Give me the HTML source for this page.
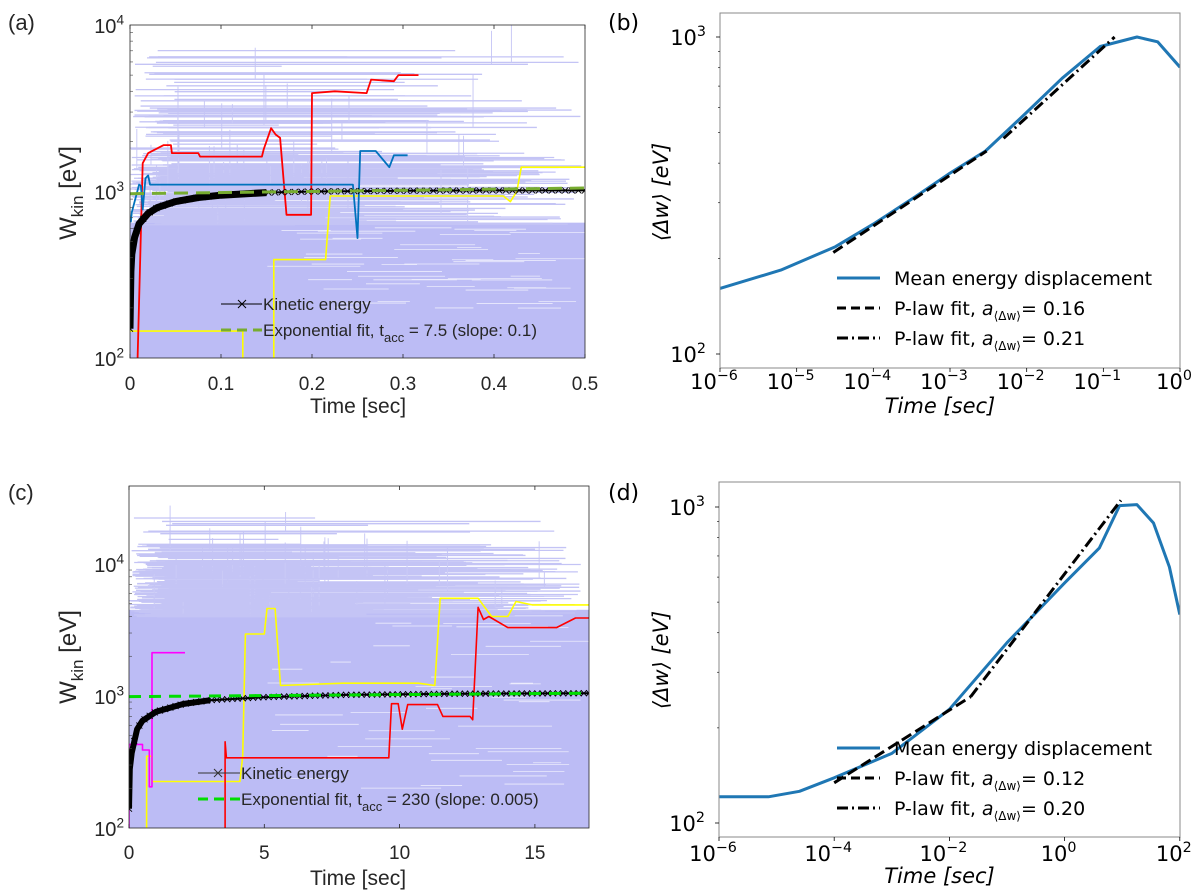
<!DOCTYPE html>
<html><head><meta charset="utf-8"><title>Energy panels</title>
<style>
html,body{margin:0;padding:0;background:#fff;width:1200px;height:895px;overflow:hidden;}
svg{display:block;}
.mt{font-family:"Liberation Sans",sans-serif;fill:#262626;}
.py{font-family:"DejaVu Sans",sans-serif;fill:#000;}
</style></head>
<body>
<svg id="fig" width="1200" height="895" viewBox="0 0 1200 895" xmlns="http://www.w3.org/2000/svg">
<defs>
<clipPath id="clipA"><rect x="130" y="25" width="455" height="333"/></clipPath>
<clipPath id="clipB"><rect x="720" y="13" width="460" height="355"/></clipPath>
<clipPath id="clipC"><rect x="129" y="486" width="460" height="342"/></clipPath>
<clipPath id="clipD"><rect x="719" y="482" width="461" height="355"/></clipPath>
</defs>
<text class="mt" x="8" y="30" font-size="22">(a)</text>
<text class="py" x="608" y="30" font-size="22">(b)</text>
<text class="mt" x="8" y="500" font-size="22">(c)</text>
<text class="py" x="608" y="500" font-size="22">(d)</text>
</svg>
<script>
// ---- Panel (a) data ----
const aKinT=[0,0.001,0.002,0.005,0.01,0.02,0.03,0.05,0.075,0.1,0.15,0.2,0.3,0.4,0.5];
const aKinV=[150,330,420,530,640,740,800,870,920,950,985,1000,1010,1015,1015];
const aFitT=[0,0.5];
const aFitV=[970,1050];
const aRedT=[0.0084,0.0084,0.014,0.02,0.037,0.045,0.046,0.075,0.077,0.145,0.147,0.155,0.16,0.165,0.172,0.199,0.2,0.225,0.26,0.265,0.29,0.295,0.317];
const aRedV=[90,100,1480,1700,1900,1900,1700,1700,1620,1620,1800,2400,2200,2100,725,725,3900,4000,3900,4700,4600,5000,5000];
const aBlueT=[0,0.001,0.002,0.01,0.012,0.014,0.017,0.02,0.022,0.245,0.25,0.253,0.27,0.285,0.29,0.305];
const aBlueV=[660,660,750,1100,1080,780,1200,1250,1100,1100,525,1750,1750,1400,1650,1650];
const aYelT=[0,0.124,0.124,0.158,0.158,0.215,0.22,0.41,0.418,0.425,0.43,0.5];
const aYelV=[145,145,90,90,390,390,940,940,870,1000,1400,1400];
const aXTicks=[0,0.1,0.2,0.3,0.4,0.5];
const aXTickLabels=["0","0.1","0.2","0.3","0.4","0.5"];
// ---- Panel (b) data ----
const bT=[1e-6,6.2e-6,3.2e-5,1e-4,3.5e-4,1e-3,2.9e-3,9.1e-3,2.9e-2,9.1e-2,0.275,0.51,1];
const bV=[161,184,218,257,313,372,437,566,741,933,1000,966,803];
const bFit1T=[3e-5,3e-3];
const bFit1V=[209,437];
const bFit2T=[5e-3,0.14];
const bFit2V=[479,1000];
const bXExp=[-6,-5,-4,-3,-2,-1,0];
// ---- Panel (c) data ----
const cKinT=[0,0.03,0.1,0.3,0.5,1,2,3,5,8,12,17];
const cKinV=[140,280,370,560,650,760,870,930,980,1020,1040,1050];
const cFitT=[0,17];
const cFitV=[990,1050];
const cMagT=[0,0,0.5,0.5,0.75,0.75,0.85,0.85,2.07];
const cMagV=[90,430,430,390,390,205,205,2130,2130];
const cYelT=[0.65,0.65,0.85,0.85,4.1,4.2,4.3,5.0,5.1,5.4,5.6,7.9,10.7,11.3,11.5,12.9,13.4,14.0,14.3,14.9,17];
const cYelV=[90,350,350,225,225,350,2950,2950,4600,4600,1200,1250,1250,1200,5500,5500,4000,4000,5200,4900,4900];
const cRedT=[3.55,3.55,3.6,3.65,9.6,9.7,9.95,10.1,10.3,11.4,11.6,12.6,12.7,12.9,13.1,13.3,14,15.8,16.5,17];
const cRedV=[90,450,340,340,340,875,875,560,860,860,700,700,660,4700,3800,4000,3300,3300,3900,3900];
const cXTicks=[0,5,10,15];
const cXTickLabels=["0","5","10","15"];
// ---- Panel (d) data ----
const dT=[1e-6,7.2e-6,2.5e-5,1e-4,1e-3,1e-2,0.1,1,4,9,18,35,66,100];
const dV=[121,121,126,139,166,229,372,575,741,1010,1018,890,646,457];
const dFit1T=[1e-4,0.0234];
const dFit1V=[134,251];
const dFit2T=[0.0234,9.5];
const dFit2V=[251,1050];
const dXExp=[-6,-4,-2,0,2];

const NS="http://www.w3.org/2000/svg";
const svg=document.getElementById('fig');
function add(parent,tag,attrs,name){
  const el=document.createElementNS(NS,tag);
  for(const k in attrs) el.setAttribute(k,attrs[k]);
  
  
  parent.appendChild(el);
  return el;
}
const L=Math.log10;
const xA=t=>130+t/0.5*455, yA=v=>358-(L(v)-2)*166.5;
const xB=t=>720+(L(t)+6)*76.67, yB=v=>354-(L(v)-2)*317;
const xC=t=>129+t*27.06, yC=v=>828-(L(v)-2)*132;
const xD=t=>719+(L(t)+6)*57.6, yD=v=>823-(L(v)-2)*316;

function pts(T,V,fx,fy){return T.map((t,i)=>fx(t).toFixed(1)+','+fy(V[i]).toFixed(1)).join(' ');}
function series(g,T,V,fx,fy,stroke,w,name,extra){
  const a={points:pts(T,V,fx,fy),fill:'none',stroke:stroke,'stroke-width':w,'stroke-linejoin':'round'};
  if(extra) for(const k in extra) a[k]=extra[k];
  return add(g,'polyline',a,name);
}
// background texture (decorative only)
let seed=7;
function rnd(){seed=(seed*16807)%2147483647;return seed/2147483647;}
function texture(g,x0,x1,fy,solidTop,levels,name){
  add(g,'rect',{x:x0,y:fy(solidTop),width:x1-x0,height:fy(100)-fy(solidTop),fill:'#bcbcf5'},name+'-fill');
  for(let i=0;i<45;i++){
    const lv=2.3+rnd()*(L(solidTop)-2.3);
    const xs=x0+(0.3+rnd()*0.6)*(x1-x0);
    add(g,'line',{x1:xs,x2:Math.min(x1,xs+20+rnd()*80),y1:fy(10**lv),y2:fy(10**lv),stroke:'#ffffff','stroke-width':0.8,opacity:0.7},name+'-streak');
  }
  levels.forEach(([lo,hi,n])=>{
    for(let i=0;i<n;i++){
      const lv=lo+rnd()*(hi-lo);
      const xs=x0+rnd()*(x1-x0)*0.1;
      const xe=x0+(0.3+rnd()*0.7)*(x1-x0);
      add(g,'line',{x1:xs,x2:xe,y1:fy(10**lv),y2:fy(10**lv),stroke:'#c4c4f5','stroke-width':1.3},name+'-trajectory');
      if(rnd()<0.2){const xv=xs+rnd()*(xe-xs);add(g,'line',{x1:xv,x2:xv,y1:fy(10**lv),y2:fy(10**(lv+0.1+rnd()*0.25)),stroke:'#cacaf6','stroke-width':1},name+'-trajectory-jump');}
    }
  });
}
function xMarkers(g,T,V,fx,fy,n,name){
  for(let i=0;i<n;i++){
    const t=T[0]+(T[T.length-1]-T[0])*i/(n-1);
    let j=0;while(j<T.length-2&&T[j+1]<t)j++;
    const f=(t-T[j])/(T[j+1]-T[j]);const v=V[j]+(V[j+1]-V[j])*f;
    const x=fx(t),y=fy(v);
    add(g,'path',{d:`M${x-3},${y-3}L${x+3},${y+3}M${x-3},${y+3}L${x+3},${y-3}`,stroke:'#000','stroke-width':0.9},name);
  }
}
function logMinor(g,x0,fy,lo,hi,name){
  for(let d=lo;d<hi;d++)for(let m=2;m<10;m++){const y=fy(m*10**d);add(g,'line',{x1:x0,x2:x0+3,y1:y,y2:y,stroke:'#444','stroke-width':0.6},name);}
}
function sup(parent,x,y,base,exp,cls,size,anchor,name){
  const t=add(parent,'text',{x:x,y:y,class:cls,'font-size':size,'text-anchor':anchor},name);
  t.appendChild(document.createTextNode(base));
  const s=add(t,'tspan',{dy:-size*0.42,'font-size':size*0.68},name+'-exponent');
  s.textContent=exp;
  return t;
}

// ================= Panel A =================
const gA=add(svg,'g',{},'panel-a');
const pA=add(gA,'g',{'clip-path':'url(#clipA)'},'plot-area-a');
texture(pA,130,585,yA,650,[[2.8,3.2,170],[3.2,3.5,50],[3.5,3.85,22]],'bg-a');
series(pA,aYelT,aYelV,xA,yA,'#ffff00',1.6,'yellow-trajectory-a');
series(pA,aRedT,aRedV,xA,yA,'#ff0000',1.8,'red-trajectory-a');
series(pA,aBlueT,aBlueV,xA,yA,'#0072bd',1.8,'blue-trajectory-a');
series(pA,aKinT,aKinV,xA,yA,'#000',2,'kinetic-energy-line-a');
series(pA,aKinT.slice(0,11),aKinV.slice(0,11),xA,yA,'#000',7,'kinetic-energy-thick-a');
xMarkers(pA,aKinT,aKinV,xA,yA,70,'kinetic-marker-a');
series(pA,aFitT,aFitV,xA,yA,'#77ac30',3,'exp-fit-a',{'stroke-dasharray':'14,8'});
add(gA,'rect',{x:130,y:25,width:455,height:333,fill:'none',stroke:'#262626','stroke-width':0.8},'axes-box-a');
aXTicks.forEach((t,i)=>{
  add(gA,'line',{x1:xA(t),x2:xA(t),y1:358,y2:354,stroke:'#262626','stroke-width':0.8},'x-tick-a');
  add(gA,'line',{x1:xA(t),x2:xA(t),y1:25,y2:29,stroke:'#262626','stroke-width':0.8},'x-tick-top-a');
  const tx=add(gA,'text',{x:xA(t),y:390,class:'mt','font-size':19,'text-anchor':'middle'},'x-tick-label-a');
  tx.textContent=aXTickLabels[i];
});
logMinor(gA,130,yA,2,4,'y-minor-tick-a');
[2,3,4].forEach(e=>sup(gA,124,yA(10**e)+8,'10',String(e),'mt',20,'end','y-tick-label-a'));
const xlA=add(gA,'text',{x:358,y:413,class:'mt','font-size':21,'text-anchor':'middle'},'x-axis-title-a');xlA.textContent='Time [sec]';
const ylA=add(gA,'text',{x:0,y:0,class:'mt','font-size':24,'text-anchor':'middle',transform:'translate(76,193) rotate(-90)'},'y-axis-title-a');
ylA.appendChild(document.createTextNode('W'));
const sA=add(ylA,'tspan',{dy:7,'font-size':17},'y-axis-subscript-a');sA.textContent='kin';
const sA2=add(ylA,'tspan',{dy:-7},'y-axis-unit-a');sA2.textContent=' [eV]';
const lgA=add(gA,'g',{},'legend-a');
add(lgA,'line',{x1:221,x2:262,y1:304,y2:304,stroke:'#000','stroke-width':1},'legend-kinetic-line-a');
add(lgA,'path',{d:'M238,300L246,308M238,308L246,300',stroke:'#000','stroke-width':1},'legend-kinetic-marker-a');
const lt1=add(lgA,'text',{x:263,y:310,class:'mt','font-size':17},'legend-kinetic-label-a');lt1.textContent='Kinetic energy';
add(lgA,'line',{x1:221,x2:262,y1:330,y2:330,stroke:'#77ac30','stroke-width':3,'stroke-dasharray':'10,6'},'legend-fit-line-a');
const lt2=add(lgA,'text',{x:263,y:336,class:'mt','font-size':17},'legend-fit-label-a');
lt2.appendChild(document.createTextNode('Exponential fit, t'));
const lt2s=add(lt2,'tspan',{dy:6,'font-size':13},'legend-fit-sub-a');lt2s.textContent='acc';
const lt2r=add(lt2,'tspan',{dy:-6},'legend-fit-rest-a');lt2r.textContent=' = 7.5 (slope: 0.1)';

// ================= Panel C =================
const gC=add(svg,'g',{},'panel-c');
const pC=add(gC,'g',{'clip-path':'url(#clipC)'},'plot-area-c');
texture(pC,129,589,yC,4500,[[3.6,4.02,200],[4.02,4.15,30],[4.15,4.35,8]],'bg-c');
series(pC,cYelT,cYelV,xC,yC,'#ffff00',1.6,'yellow-trajectory-c');
series(pC,cRedT,cRedV,xC,yC,'#ff0000',1.6,'red-trajectory-c');
series(pC,cMagT,cMagV,xC,yC,'#ff00ff',1.6,'magenta-trajectory-c');
series(pC,cKinT,cKinV,xC,yC,'#000',2,'kinetic-energy-line-c');
series(pC,cKinT.slice(0,8),cKinV.slice(0,8),xC,yC,'#000',6,'kinetic-energy-thick-c');
xMarkers(pC,cKinT,cKinV,xC,yC,90,'kinetic-marker-c');
series(pC,cFitT,cFitV,xC,yC,'#00dd00',3,'exp-fit-c',{'stroke-dasharray':'12,8'});
add(gC,'rect',{x:129,y:486,width:460,height:342,fill:'none',stroke:'#262626','stroke-width':0.8},'axes-box-c');
cXTicks.forEach((t,i)=>{
  add(gC,'line',{x1:xC(t),x2:xC(t),y1:828,y2:824,stroke:'#262626','stroke-width':0.8},'x-tick-c');
  add(gC,'line',{x1:xC(t),x2:xC(t),y1:486,y2:490,stroke:'#262626','stroke-width':0.8},'x-tick-top-c');
  const tx=add(gC,'text',{x:xC(t),y:859,class:'mt','font-size':19,'text-anchor':'middle'},'x-tick-label-c');
  tx.textContent=cXTickLabels[i];
});
logMinor(gC,129,yC,2,4,'y-minor-tick-c');
[2,3,4].forEach(e=>sup(gC,124,yC(10**e)+8,'10',String(e),'mt',20,'end','y-tick-label-c'));
const xlC=add(gC,'text',{x:358,y:885,class:'mt','font-size':21,'text-anchor':'middle'},'x-axis-title-c');xlC.textContent='Time [sec]';
const ylC=add(gC,'text',{x:0,y:0,class:'mt','font-size':24,'text-anchor':'middle',transform:'translate(76,657) rotate(-90)'},'y-axis-title-c');
ylC.appendChild(document.createTextNode('W'));
const sC=add(ylC,'tspan',{dy:7,'font-size':17},'y-axis-subscript-c');sC.textContent='kin';
const sC2=add(ylC,'tspan',{dy:-7},'y-axis-unit-c');sC2.textContent=' [eV]';
const lgC=add(gC,'g',{},'legend-c');
add(lgC,'line',{x1:198,x2:240,y1:773,y2:773,stroke:'#333','stroke-width':1},'legend-kinetic-line-c');
add(lgC,'path',{d:'M214,769L222,777M214,777L222,769',stroke:'#333','stroke-width':1},'legend-kinetic-marker-c');
const lc1=add(lgC,'text',{x:241,y:779,class:'mt','font-size':17},'legend-kinetic-label-c');lc1.textContent='Kinetic energy';
add(lgC,'line',{x1:198,x2:240,y1:799,y2:799,stroke:'#00dd00','stroke-width':3,'stroke-dasharray':'10,6'},'legend-fit-line-c');
const lc2=add(lgC,'text',{x:241,y:805,class:'mt','font-size':17},'legend-fit-label-c');
lc2.appendChild(document.createTextNode('Exponential fit, t'));
const lc2s=add(lc2,'tspan',{dy:6,'font-size':13},'legend-fit-sub-c');lc2s.textContent='acc';
const lc2r=add(lc2,'tspan',{dy:-6},'legend-fit-rest-c');lc2r.textContent=' = 230 (slope: 0.005)';

// ================= Log-log panels =================
function logPanel(id,x0,x1,top,bot,fx,fy,T,V,f1T,f1V,f2T,f2V,xExp,labels,ylCenter,xlY,tickY){
  const g=add(svg,'g',{},'panel-'+id);
  const p=add(g,'g',{'clip-path':`url(#clip${id.toUpperCase()})`},'plot-area-'+id);
  series(p,T,V,fx,fy,'#1f77b4',3,'mean-energy-line-'+id);
  series(p,f1T,f1V,fx,fy,'#000',3,'plaw-fit-dashed-'+id,{'stroke-dasharray':'11,5'});
  series(p,f2T,f2V,fx,fy,'#000',3,'plaw-fit-dashdot-'+id,{'stroke-dasharray':'11,4,2,4'});
  add(g,'rect',{x:x0,y:top,width:x1-x0,height:bot-top,fill:'none',stroke:'#888','stroke-width':1},'axes-box-'+id);
  xExp.forEach(e=>{
    const x=fx(10**e);
    add(g,'line',{x1:x,x2:x,y1:bot,y2:bot+4,stroke:'#000','stroke-width':0.8},'x-tick-'+id);
    sup(g,x-6,tickY,'10','\u2212'.repeat(e<0?1:0)+Math.abs(e),'py',21,'middle','x-tick-label-'+id);
  });
  [2,3].forEach(e=>{
    const y=fy(10**e);
    add(g,'line',{x1:x0-4,x2:x0,y1:y,y2:y,stroke:'#000','stroke-width':0.8},'y-tick-'+id);
    sup(g,x0-14,y+8,'10',String(e),'py',21,'end','y-tick-label-'+id);
  });
  for(let m=2;m<10;m++){const y=fy(m*100);if(y>top)add(g,'line',{x1:x0-2,x2:x0,y1:y,y2:y,stroke:'#000','stroke-width':0.6},'y-minor-tick-'+id);}
  const xl=add(g,'text',{x:(x0+x1)/2-10,y:xlY,class:'py','font-size':21,'text-anchor':'middle','font-style':'italic'},'x-axis-title-'+id);xl.textContent='Time [sec]';
  const yl=add(g,'text',{x:0,y:0,class:'py','font-size':21,'text-anchor':'middle','font-style':'italic',transform:`translate(668,${ylCenter}) rotate(-90)`},'y-axis-title-'+id);
  yl.textContent='\u27E8\u0394w\u27E9 [eV]';
  const lg=add(g,'g',{},'legend-'+id);
  const ly=labels.y;
  add(lg,'line',{x1:837,x2:880,y1:ly,y2:ly,stroke:'#1f77b4','stroke-width':3},'legend-mean-line-'+id);
  const t1=add(lg,'text',{x:894,y:ly+7,class:'py','font-size':19},'legend-mean-label-'+id);t1.textContent='Mean energy displacement';
  add(lg,'line',{x1:837,x2:880,y1:ly+30,y2:ly+30,stroke:'#000','stroke-width':3,'stroke-dasharray':'9,5'},'legend-fit1-line-'+id);
  const t2=add(lg,'text',{x:894,y:ly+37,class:'py','font-size':19},'legend-fit1-label-'+id);
  t2.appendChild(document.createTextNode('P-law fit, '));
  const a2=add(t2,'tspan',{'font-style':'italic'},'legend-fit1-a-'+id);a2.textContent='a';
  const s2=add(t2,'tspan',{dy:5,'font-size':12},'legend-fit1-sub-'+id);s2.textContent='\u27E8\u0394w\u27E9';
  const r2=add(t2,'tspan',{dy:-5},'legend-fit1-val-'+id);r2.textContent='= '+labels.a1;
  add(lg,'line',{x1:837,x2:880,y1:ly+60,y2:ly+60,stroke:'#000','stroke-width':3,'stroke-dasharray':'11,4,2,4'},'legend-fit2-line-'+id);
  const t3=add(lg,'text',{x:894,y:ly+67,class:'py','font-size':19},'legend-fit2-label-'+id);
  t3.appendChild(document.createTextNode('P-law fit, '));
  const a3=add(t3,'tspan',{'font-style':'italic'},'legend-fit2-a-'+id);a3.textContent='a';
  const s3=add(t3,'tspan',{dy:5,'font-size':12},'legend-fit2-sub-'+id);s3.textContent='\u27E8\u0394w\u27E9';
  const r3=add(t3,'tspan',{dy:-5},'legend-fit2-val-'+id);r3.textContent='= '+labels.a2;
}
logPanel('b',720,1180,13,368,xB,yB,bT,bV,bFit1T,bFit1V,bFit2T,bFit2V,bXExp,{y:278,a1:'0.16',a2:'0.21'},192,413,389);
logPanel('d',719,1180,482,837,xD,yD,dT,dV,dFit1T,dFit1V,dFit2T,dFit2V,dXExp,{y:748,a1:'0.12',a2:'0.20'},660,883,861);
</script>
</body></html>
